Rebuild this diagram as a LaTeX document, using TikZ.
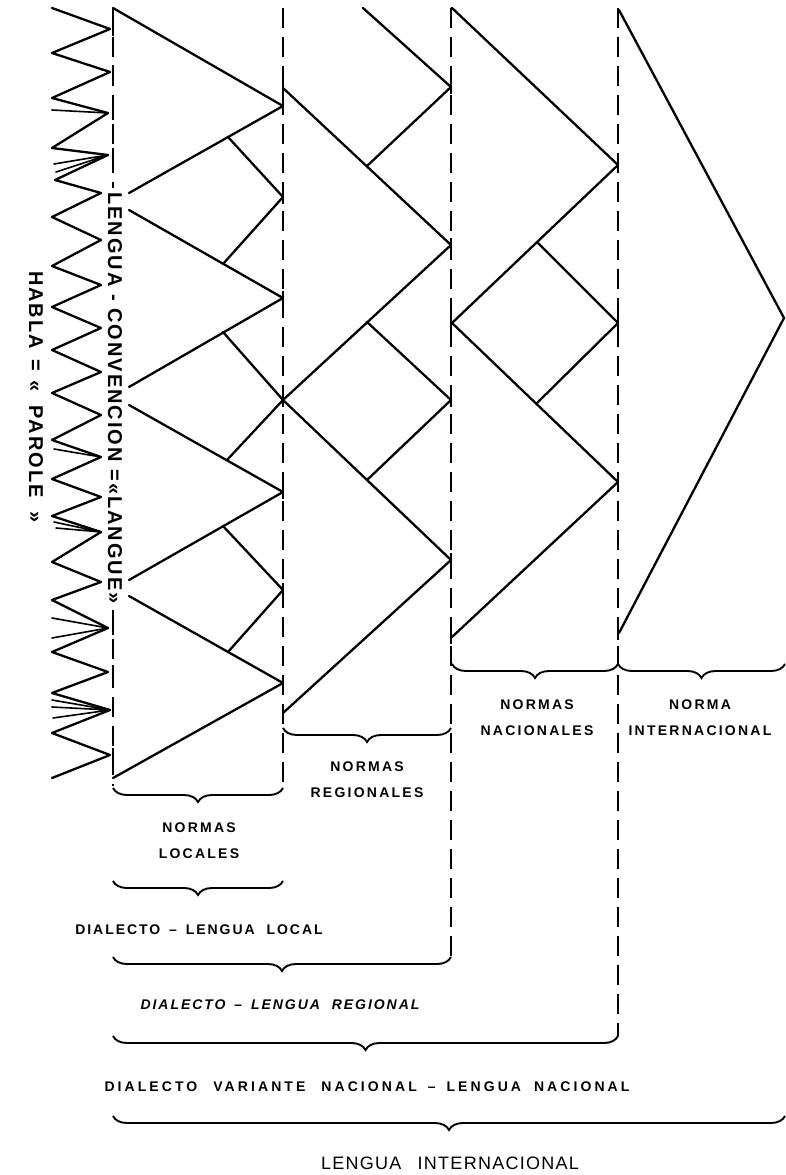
\documentclass[tikz,border=0pt]{standalone}
\usepackage{fontspec}
\setmainfont{Liberation Sans}
\usetikzlibrary{decorations.pathreplacing}
\begin{document}
\begin{tikzpicture}[x=1pt,y=-1pt,
  ln/.style={line width=2.3pt, line cap=round, line join=round},
  thin/.style={line width=1.6pt, line cap=round},
  dsh/.style={line width=1.9pt, dash pattern=on 20pt off 9pt},
  tick/.style={line width=1.9pt},
  brc/.style={decorate, decoration={brace, mirror, amplitude=14pt}, line width=1.9pt},
  lbl/.style={font=\fontsize{14}{26}\selectfont\bfseries\addfontfeature{LetterSpace=16}, align=center, inner sep=0pt},
  big/.style={font=\fontsize{18}{22}\selectfont\addfontfeature{LetterSpace=7}, inner sep=0pt},
  vert/.style={font=\fontsize{20}{22}\selectfont\bfseries\addfontfeature{LetterSpace=10}, rotate=-90, inner sep=0pt},
]
\path[use as bounding box, fill=white] (0,0) rectangle (785,1175);

% ---------- dashed divisions ----------
\draw[dsh] (113,8) -- (113,188);
\draw[dsh] (113,610) -- (113,786);
\draw[dsh] (283,8) -- (283,786);
\draw[dsh] (451,8) -- (451,956);
\draw[dsh] (618,8) -- (618,1036);

% ---------- HABLA zigzag ----------
\draw[ln] (52,8) -- (110,29) -- (52,53) -- (110,72) -- (52,98) -- (108,113) -- (52,148) -- (108,155)
  -- (55,180) -- (101,193) -- (52,217) -- (101,240) -- (52,266) -- (101,285) -- (52,307) -- (101,328)
  -- (52,350) -- (101,372) -- (52,393) -- (101,415) -- (52,440) -- (101,457) -- (52,479) -- (101,497)
  -- (52,516) -- (101,532) -- (52,562) -- (101,582) -- (52,600) -- (108,628) -- (52,652) -- (108,672)
  -- (52,693) -- (110,710) -- (52,733) -- (110,755) -- (52,778);
\draw[thin] (52,110) -- (108,113);
\draw[thin] (54,164) -- (108,155) (56,172) -- (108,155);
\draw[thin] (54,449) -- (101,457);
\draw[thin] (54,522) -- (101,532) (56,528) -- (101,532);
\draw[thin] (52,618) -- (108,628) (52,638) -- (108,628);
\draw[thin] (52,700) -- (110,710) (52,707) -- (110,710) (53,718) -- (110,710);
\foreach \y in {29,72,113,155,628,672,710,755}{\draw[tick] (113,\y-7) -- (113,\y+7);}

% ---------- column 1 : normas locales ----------
\coordinate (a1) at (283,106); \coordinate (a2) at (283,298);
\coordinate (a3) at (283,492); \coordinate (a4) at (283,683);
\draw[ln] (113,8) -- (a1) -- (129,193);
\draw[ln] (129,210) -- (a2) -- (129,387);
\draw[ln] (129,405) -- (a3) -- (129,580);
\draw[ln] (129,596) -- (a4) -- (113,778);
\coordinate (s1) at (283,197); \coordinate (s2) at (283,590); \coordinate (x1) at (283,400);
\draw[ln] (228,137) -- (s1) -- (223,264);
\draw[ln] (223,526) -- (s2) -- (228,652);

% ---------- column 2 : normas regionales ----------
\coordinate (b1) at (451,245); \coordinate (b2) at (451,560);
\coordinate (bt) at (451,87); \coordinate (bs) at (451,400);
\draw[ln] (283,88) -- (b1) -- (x1) -- (227,460);
\draw[ln] (223,332) -- (x1) -- (b2) -- (283,713);
\draw[ln] (363,8) -- (bt) -- (367,166);
\draw[ln] (367,322) -- (bs) -- (367,480);

% ---------- column 3 : normas nacionales ----------
\coordinate (c1) at (618,165); \coordinate (c2) at (618,482); \coordinate (cs) at (618,323);
\draw[ln] (452,8) -- (c1) -- (452,323) -- (c2) -- (452,637);
\draw[ln] (537,242) -- (cs) -- (537,403);

% ---------- column 4 : norma internacional ----------
\coordinate (d1) at (784,318);
\draw[ln] (619,10) -- (d1) -- (619,633);

% ---------- ticks at vertices ----------
\foreach \y in {106,197,298,400,492,590,683,88,713}{\draw[tick] (283,\y-7) -- (283,\y+7);}
\foreach \y in {87,245,400,560,323,637}{\draw[tick] (451,\y-7) -- (451,\y+7);}
\foreach \y in {165,323,482,633}{\draw[tick] (618,\y-7) -- (618,\y+7);}

% ---------- vertical labels ----------
\node[vert] (langue) at (115,398) {LENGUA - CONVENCION =«LANGUE»};
\node[vert] (parole) at (36,397) {HABLA\hspace{10pt}=\hspace{10pt}«\hspace{14pt}PAROLE\hspace{14pt}»};

% ---------- braces ----------
\draw[brc] (113,788) -- (283,788);
\draw[brc] (283,728) -- (451,728);
\draw[brc] (452,664) -- (618,664);
\draw[brc] (618,664) -- (785,664);
\draw[brc] (113,881) -- (283,881);
\draw[brc] (113,957) -- (451,957);
\draw[brc] (113,1036) -- (618,1036);
\draw[brc] (113,1116) -- (785,1116);

% ---------- labels ----------
\node[lbl] (nloc) at (199,841) {NORMAS\\LOCALES};
\node[lbl] (nreg) at (367,780) {NORMAS\\REGIONALES};
\node[lbl] (nnac) at (537,718) {NORMAS\\NACIONALES};
\node[lbl] (nint) at (700,718) {NORMA\\INTERNACIONAL};
\node[lbl, font=\fontsize{14}{26}\selectfont\bfseries\addfontfeature{LetterSpace=14}] (dloc) at (199,930) {DIALECTO \hspace{3pt}–\hspace{3pt} LENGUA\hspace{6pt} LOCAL};
\node[lbl, font=\fontsize{14}{26}\selectfont\bfseries\itshape\addfontfeature{LetterSpace=14}] (dreg) at (280,1005) {DIALECTO \hspace{3pt}–\hspace{3pt} LENGUA\hspace{6pt} REGIONAL};
\node[lbl, font=\fontsize{14}{26}\selectfont\bfseries\addfontfeature{LetterSpace=22}] (dnac) at (367,1087) {DIALECTO\hspace{9pt} VARIANTE\hspace{9pt} NACIONAL \hspace{4pt}–\hspace{4pt} LENGUA\hspace{6pt} NACIONAL};
\node[big] (lint) at (450,1163) {LENGUA\hspace{10pt} INTERNACIONAL};
\end{tikzpicture}
\end{document}
